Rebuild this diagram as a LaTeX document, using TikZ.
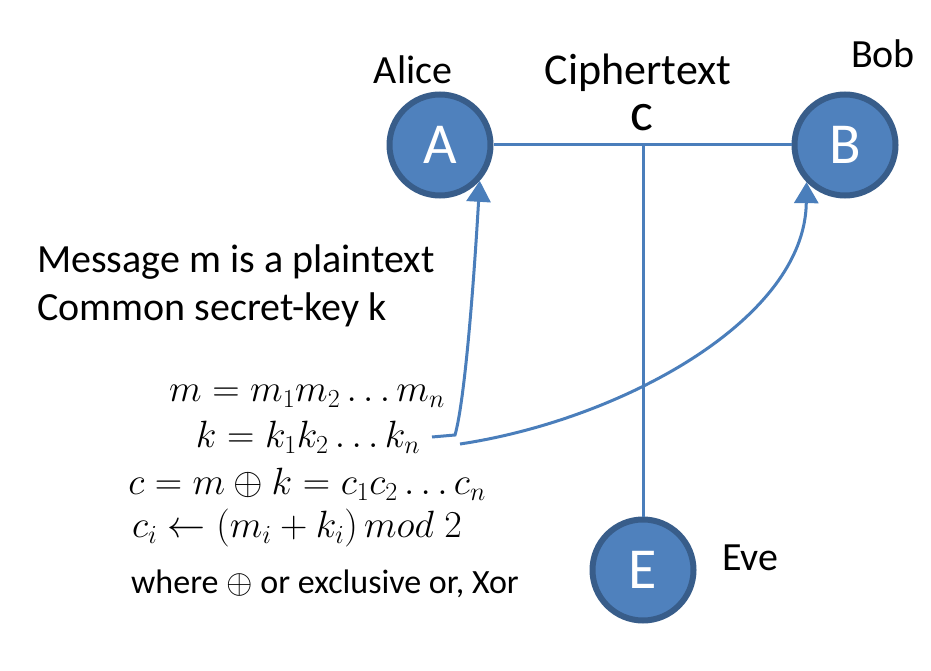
\RequirePackage{fix-cm}
\documentclass[tikz,border=0pt]{standalone}
\usepackage{fontspec}
\setmainfont{Carlito}
\usetikzlibrary{arrows.meta}
\definecolor{nodefill}{HTML}{4F81BD}
\definecolor{nodeborder}{HTML}{385D8A}
\definecolor{linkcol}{HTML}{4A7EBB}
\DeclareMathSizes{38}{38}{26}{19}
\DeclareMathSizes{34}{34}{24}{17}
\tikzset{
  party/.style={circle, fill=nodefill, draw=nodeborder, line width=6pt,
    minimum size=101pt, inner sep=0pt, text=white,
    font=\fontsize{58}{60}\selectfont},
  lbl/.style={inner sep=0pt, font=\fontsize{40}{48}\selectfont},
  mathlbl/.style={inner sep=0pt, font=\fontsize{38}{44}\selectfont},
  link/.style={draw=linkcol, line width=3pt},
  arr/.style={link, -{Triangle[length=21pt,width=24pt]}},
}
\begin{document}
\begin{tikzpicture}[x=1pt,y=-1pt]
\useasboundingbox (0,0) rectangle (931,671);
% parties
\node[party] (A) at (440,145) {A};
\node[party] (B) at (845,145) {B};
\node[party] (E) at (643,570) {E};
% labels
\node[lbl] (alice) at (413,70) {Alice};
\node[lbl] (bob) at (883,54) {Bob};
\node[lbl, font=\fontsize{44}{48}\selectfont] (ctext) at (638,73) {Ciphertext};
\node[lbl, font=\fontsize{54}{56}\selectfont] (cc) at (642,118) {c};
\node[lbl, anchor=west] (eve) at (722,558) {Eve};
\node[lbl, anchor=west] (msg) at (37,262) {Message m is a plaintext};
\node[lbl, anchor=west] (key) at (37,310) {Common secret-key k};
% math
\node[mathlbl] (m1) at (307,396) {$m = m_1 m_2 \ldots m_n$};
\node[mathlbl] (m2) at (308,437) {$k = k_1 k_2 \ldots k_n$};
\node[mathlbl] (m3) at (307,484) {$c = m \oplus k = c_1 c_2 \ldots c_n$};
\node[mathlbl] (m4) at (297,528) {$c_i \leftarrow (m_i + k_i)\, mod\; 2$};
\node[lbl, font=\fontsize{34}{40}\selectfont] (where) at (325,584) {where $\oplus$ or exclusive or, Xor};
% connectors
\coordinate (mid) at (643,145);
\draw[link] (A) -- (B);
\draw[link] (mid) -- (E);
\coordinate (k1) at (432,437);
\coordinate (k2) at (460,444);
\draw[arr] (k1) -- (455,435) .. controls (465,400) and (474,280) .. (A.-42);
\draw[arr] (k2) .. controls (620,420) and (805,320) .. (B.-136);
\end{tikzpicture}
\end{document}
